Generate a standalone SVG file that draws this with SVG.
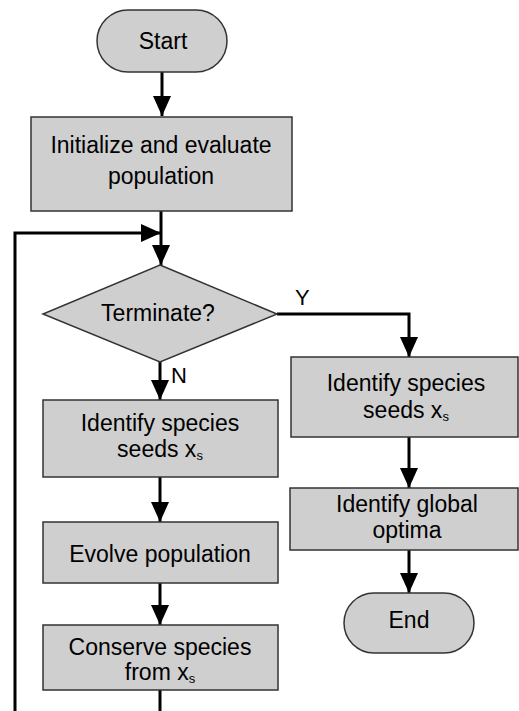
<svg xmlns="http://www.w3.org/2000/svg" width="519" height="711" viewBox="0 0 519 711">
<defs>
<marker id="ah" markerUnits="userSpaceOnUse" markerWidth="20" markerHeight="20" viewBox="0 0 20 18" refX="20" refY="9" orient="auto">
<path d="M0,0 L20,9 L0,18 Z" fill="#000"/>
</marker>
</defs>
<style>
.n{fill:#cfcfcf;stroke:#333;stroke-width:1.5}
.t{font-family:"Liberation Sans",Arial,sans-serif;font-size:23px;fill:#000;text-anchor:middle}
.s{font-size:13px}
.l{font-family:"Liberation Sans",Arial,sans-serif;font-size:22px;fill:#000}
.c{fill:none;stroke:#000;stroke-width:3}
</style>
<rect width="519" height="711" fill="#fff"/>
<g id="connectors">
<line class="c" x1="162" y1="72" x2="162" y2="116" marker-end="url(#ah)"/>
<line class="c" x1="161" y1="211" x2="161" y2="233"/>
<polyline class="c" points="15,711 15,233 161,233" marker-end="url(#ah)"/>
<line class="c" x1="161" y1="233" x2="161" y2="265" marker-end="url(#ah)"/>
<line class="c" x1="160" y1="362" x2="160" y2="400" marker-end="url(#ah)"/>
<polyline class="c" points="277,314 409,314 409,357" marker-end="url(#ah)"/>
<line class="c" x1="160" y1="477" x2="160" y2="522" marker-end="url(#ah)"/>
<line class="c" x1="160" y1="583" x2="160" y2="625" marker-end="url(#ah)"/>
<line class="c" x1="160" y1="690" x2="160" y2="711"/>
<line class="c" x1="409" y1="437" x2="409" y2="488" marker-end="url(#ah)"/>
<line class="c" x1="409" y1="550" x2="409" y2="593" marker-end="url(#ah)"/>
<text class="l" x="295" y="305">Y</text>
<text class="l" x="171" y="383">N</text>
</g>
<g id="start">
<rect class="n" x="97" y="10" width="130" height="62" rx="31" ry="31"/>
<text class="t" x="163" y="49">Start</text>
</g>
<g id="init">
<rect class="n" x="31" y="117" width="261" height="94"/>
<text class="t" x="161" y="153">Initialize and evaluate</text>
<text class="t" x="161" y="184">population</text>
</g>
<g id="terminate">
<polygon class="n" points="160,265 277,314 160,362 43,314"/>
<text class="t" x="158" y="321">Terminate?</text>
</g>
<g id="identify-left">
<rect class="n" x="43" y="400" width="235" height="77"/>
<text class="t" x="160" y="431">Identify species</text>
<text class="t" x="160" y="457">seeds x<tspan class="s" dy="3">s</tspan></text>
</g>
<g id="evolve">
<rect class="n" x="43" y="522" width="235" height="61"/>
<text class="t" x="160" y="562">Evolve population</text>
</g>
<g id="conserve">
<rect class="n" x="43" y="625" width="235" height="65"/>
<text class="t" x="160" y="655">Conserve species</text>
<text class="t" x="160" y="680">from x<tspan class="s" dy="3">s</tspan></text>
</g>
<g id="identify-right">
<rect class="n" x="291" y="357" width="227" height="80"/>
<text class="t" x="406" y="391">Identify species</text>
<text class="t" x="406" y="418">seeds x<tspan class="s" dy="3">s</tspan></text>
</g>
<g id="global">
<rect class="n" x="290" y="488" width="228" height="62"/>
<text class="t" x="407" y="512">Identify global</text>
<text class="t" x="407" y="538">optima</text>
</g>
<g id="end">
<rect class="n" x="344" y="593" width="130" height="60" rx="30" ry="30"/>
<text class="t" x="409" y="628">End</text>
</g>
</svg>
